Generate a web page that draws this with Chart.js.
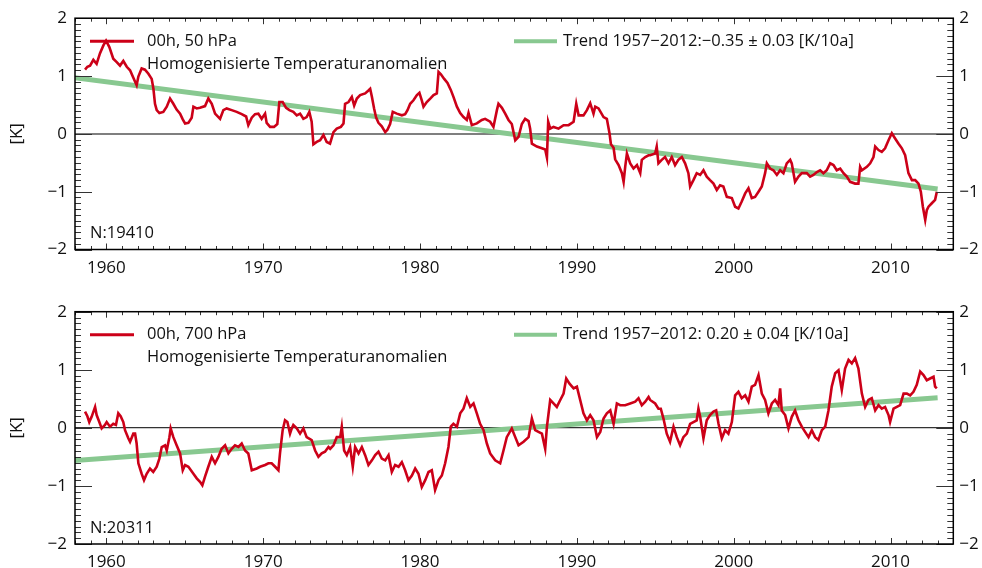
<!DOCTYPE html>
<html>
<head>
<meta charset="utf-8">
<script src="https://cdn.jsdelivr.net/npm/chart.js@4"></script>
<style>
html, body { margin: 0; padding: 0; background: #fff; }
#wrap { position: relative; width: 982px; height: 568px; overflow: hidden; }
.panel { position: absolute; left: 0; width: 982px; }
</style>
</head>
<body>
<div id="wrap">
  <div class="panel" style="top:0;height:290px"><canvas id="c50" width="982" height="290"></canvas></div>
  <div class="panel" style="top:290px;height:278px"><canvas id="c700" width="982" height="278"></canvas></div>
</div>
<script>
// --- DATOS ---
const years50 = [
  1958.64, 1958.79, 1958.96, 1959.17, 1959.38, 1959.59, 1959.81, 1959.98, 1960.19, 1960.44,
  1960.66, 1960.87, 1961.08, 1961.30, 1961.51, 1961.72, 1961.93, 1962.04, 1962.25, 1962.46,
  1962.68, 1962.89, 1963.00, 1963.10, 1963.21, 1963.38, 1963.63, 1963.85, 1964.06, 1964.27,
  1964.48, 1964.70, 1964.87, 1965.02, 1965.23, 1965.44, 1965.55, 1965.76, 1965.97, 1966.29,
  1966.50, 1966.72, 1966.93, 1967.25, 1967.46, 1967.67, 1967.99, 1968.31, 1968.63, 1968.91,
  1969.05, 1969.27, 1969.48, 1969.69, 1969.90, 1970.12, 1970.22, 1970.44, 1970.69, 1970.90,
  1971.03, 1971.24, 1971.46, 1971.67, 1971.92, 1972.14, 1972.35, 1972.56, 1972.77, 1972.94,
  1973.09, 1973.20, 1973.41, 1973.63, 1973.84, 1974.05, 1974.26, 1974.48, 1974.69, 1974.95,
  1975.12, 1975.22, 1975.44, 1975.65, 1975.80, 1975.97, 1976.18, 1976.50, 1976.71, 1976.82,
  1976.93, 1977.07, 1977.20, 1977.35, 1977.56, 1977.78, 1977.92, 1978.09, 1978.26, 1978.52,
  1978.84, 1979.05, 1979.20, 1979.37, 1979.58, 1979.80, 1979.96, 1980.11, 1980.22, 1980.43,
  1980.65, 1980.86, 1981.07, 1981.18, 1981.33, 1981.54, 1981.75, 1981.96, 1982.13, 1982.35,
  1982.56, 1982.77, 1982.98, 1983.09, 1983.30, 1983.62, 1983.94, 1984.15, 1984.47, 1984.68,
  1984.90, 1985.00, 1985.22, 1985.43, 1985.64, 1985.85, 1986.07, 1986.28, 1986.49, 1986.70,
  1986.92, 1987.02, 1987.13, 1987.45, 1987.77, 1987.98, 1988.09, 1988.17, 1988.30, 1988.51,
  1988.83, 1989.15, 1989.47, 1989.79, 1989.96, 1990.11, 1990.42, 1990.64, 1990.85, 1991.06,
  1991.17, 1991.38, 1991.70, 1991.91, 1992.08, 1992.17, 1992.34, 1992.44, 1992.66, 1992.87,
  1992.98, 1993.08, 1993.19, 1993.40, 1993.61, 1993.83, 1994.04, 1994.14, 1994.36, 1994.57,
  1994.67, 1994.99, 1995.09, 1995.20, 1995.41, 1995.62, 1995.84, 1996.05, 1996.26, 1996.47,
  1996.69, 1996.90, 1997.11, 1997.22, 1997.43, 1997.64, 1997.86, 1998.07, 1998.28, 1998.49,
  1998.71, 1998.92, 1999.13, 1999.34, 1999.56, 1999.88, 2000.09, 2000.30, 2000.51, 2000.73,
  2000.94, 2001.15, 2001.36, 2001.58, 2001.79, 2002.00, 2002.11, 2002.32, 2002.53, 2002.75,
  2002.96, 2003.17, 2003.38, 2003.60, 2003.70, 2003.91, 2004.13, 2004.34, 2004.66, 2004.87,
  2005.08, 2005.30, 2005.51, 2005.72, 2005.93, 2006.15, 2006.36, 2006.57, 2006.79, 2007.00,
  2007.21, 2007.42, 2007.74, 2007.95, 2008.06, 2008.17, 2008.49, 2008.70, 2008.91, 2009.02,
  2009.23, 2009.44, 2009.65, 2009.87, 2010.08, 2010.29, 2010.51, 2010.72, 2010.93, 2011.14,
  2011.36, 2011.57, 2011.78, 2011.93, 2012.06, 2012.21, 2012.31, 2012.42, 2012.63, 2012.84,
  2012.95
];
const temp50 = [
  1.11, 1.16, 1.18, 1.28, 1.21, 1.39, 1.53, 1.61, 1.50, 1.30,
  1.24, 1.18, 1.26, 1.16, 1.10, 0.97, 0.84, 0.99, 1.13, 1.11,
  1.04, 0.95, 0.78, 0.52, 0.41, 0.36, 0.38, 0.47, 0.61, 0.52,
  0.42, 0.35, 0.25, 0.18, 0.19, 0.28, 0.47, 0.44, 0.45, 0.48,
  0.61, 0.52, 0.35, 0.26, 0.41, 0.44, 0.41, 0.38, 0.34, 0.30,
  0.15, 0.28, 0.34, 0.35, 0.26, 0.35, 0.19, 0.12, 0.12, 0.17,
  0.55, 0.55, 0.45, 0.41, 0.38, 0.32, 0.35, 0.26, 0.29, 0.38,
  0.21, -0.18, -0.14, -0.11, -0.02, -0.14, -0.17, 0.03, 0.09, 0.12,
  0.18, 0.52, 0.55, 0.64, 0.49, 0.61, 0.67, 0.70, 0.75, 0.78,
  0.64, 0.44, 0.28, 0.19, 0.13, 0.03, 0.07, 0.17, 0.38, 0.35,
  0.32, 0.34, 0.41, 0.52, 0.58, 0.67, 0.71, 0.58, 0.47, 0.55,
  0.61, 0.67, 0.70, 1.07, 1.03, 0.95, 0.88, 0.76, 0.64, 0.47,
  0.36, 0.29, 0.24, 0.36, 0.15, 0.18, 0.24, 0.26, 0.21, 0.12,
  0.41, 0.52, 0.45, 0.35, 0.24, 0.17, -0.11, -0.05, 0.17, 0.26,
  0.22, 0.09, -0.17, -0.22, -0.25, -0.27, -0.41, 0.21, 0.09, 0.12,
  0.09, 0.15, 0.15, 0.21, 0.52, 0.32, 0.32, 0.41, 0.53, 0.35,
  0.47, 0.44, 0.29, 0.26, 0.01, -0.18, -0.24, -0.44, -0.54, -0.68,
  -0.83, -0.57, -0.34, -0.51, -0.60, -0.54, -0.68, -0.45, -0.40, -0.37,
  -0.37, -0.34, -0.22, -0.51, -0.45, -0.40, -0.51, -0.40, -0.54, -0.45,
  -0.40, -0.51, -0.68, -0.91, -0.80, -0.68, -0.71, -0.63, -0.74, -0.80,
  -0.86, -0.97, -0.89, -0.91, -1.09, -1.11, -1.26, -1.29, -1.17, -1.03,
  -0.94, -1.11, -1.09, -1.00, -0.91, -0.68, -0.51, -0.60, -0.63, -0.71,
  -0.63, -0.68, -0.51, -0.45, -0.51, -0.83, -0.74, -0.68, -0.68, -0.74,
  -0.71, -0.66, -0.63, -0.68, -0.63, -0.51, -0.54, -0.63, -0.60, -0.68,
  -0.74, -0.83, -0.86, -0.86, -0.57, -0.63, -0.57, -0.51, -0.40, -0.22,
  -0.28, -0.31, -0.25, -0.11, 0.01, -0.08, -0.17, -0.25, -0.37, -0.68,
  -0.80, -0.80, -0.86, -1.00, -1.26, -1.49, -1.32, -1.26, -1.20, -1.14,
  -1.00
];

const years700 = [
  1958.64, 1958.79, 1958.91, 1959.06, 1959.28, 1959.38, 1959.55, 1959.70, 1959.91, 1960.02,
  1960.23, 1960.44, 1960.61, 1960.76, 1960.91, 1961.08, 1961.19, 1961.40, 1961.51, 1961.72,
  1961.83, 1961.93, 1962.04, 1962.25, 1962.40, 1962.57, 1962.78, 1962.99, 1963.21, 1963.38,
  1963.53, 1963.74, 1963.85, 1964.02, 1964.10, 1964.27, 1964.48, 1964.70, 1964.87, 1965.02,
  1965.23, 1965.55, 1965.76, 1965.97, 1966.12, 1966.29, 1966.50, 1966.72, 1966.93, 1967.14,
  1967.35, 1967.57, 1967.78, 1967.99, 1968.20, 1968.42, 1968.63, 1968.84, 1969.05, 1969.27,
  1969.59, 1969.80, 1970.12, 1970.33, 1970.54, 1970.76, 1970.97, 1971.07, 1971.24, 1971.39,
  1971.54, 1971.71, 1971.82, 1971.92, 1972.14, 1972.35, 1972.56, 1972.77, 1973.09, 1973.31,
  1973.52, 1973.73, 1973.94, 1974.16, 1974.27, 1974.48, 1974.69, 1974.91, 1975.01, 1975.16,
  1975.33, 1975.54, 1975.71, 1975.86, 1976.08, 1976.29, 1976.50, 1976.71, 1976.93, 1977.14,
  1977.35, 1977.56, 1977.78, 1977.99, 1978.20, 1978.41, 1978.63, 1978.84, 1979.05, 1979.26,
  1979.48, 1979.69, 1979.90, 1980.11, 1980.33, 1980.54, 1980.75, 1980.96, 1981.18, 1981.39,
  1981.60, 1981.81, 1981.96, 1982.13, 1982.35, 1982.56, 1982.77, 1982.98, 1983.20, 1983.41,
  1983.62, 1983.83, 1984.05, 1984.26, 1984.47, 1984.79, 1985.11, 1985.32, 1985.53, 1985.85,
  1986.07, 1986.28, 1986.60, 1986.92, 1987.13, 1987.34, 1987.55, 1987.77, 1987.98, 1988.09,
  1988.30, 1988.51, 1988.72, 1988.94, 1989.15, 1989.32, 1989.53, 1989.79, 1990.00, 1990.21,
  1990.42, 1990.64, 1990.85, 1991.06, 1991.28, 1991.49, 1991.70, 1991.91, 1992.13, 1992.34,
  1992.55, 1992.76, 1993.08, 1993.40, 1993.72, 1993.93, 1994.14, 1994.36, 1994.57, 1994.67,
  1994.99, 1995.20, 1995.35, 1995.52, 1995.73, 1995.94, 1996.16, 1996.37, 1996.58, 1996.79,
  1997.01, 1997.22, 1997.43, 1997.64, 1997.75, 1997.86, 1998.07, 1998.28, 1998.49, 1998.71,
  1998.88, 1999.03, 1999.24, 1999.45, 1999.66, 1999.88, 2000.09, 2000.30, 2000.51, 2000.73,
  2000.94, 2001.15, 2001.36, 2001.58, 2001.79, 2002.00, 2002.21, 2002.43, 2002.64, 2002.85,
  2002.96, 2003.06, 2003.28, 2003.49, 2003.70, 2003.91, 2004.13, 2004.34, 2004.55, 2004.77,
  2004.98, 2005.19, 2005.40, 2005.62, 2005.83, 2006.04, 2006.25, 2006.47, 2006.68, 2006.89,
  2007.10, 2007.32, 2007.53, 2007.74, 2007.95, 2008.17, 2008.38, 2008.59, 2008.80, 2009.02,
  2009.23, 2009.44, 2009.65, 2009.87, 2009.97, 2010.19, 2010.40, 2010.61, 2010.83, 2011.04,
  2011.25, 2011.46, 2011.67, 2011.89, 2012.10, 2012.31, 2012.52, 2012.74, 2012.84, 2012.95
];
const temp700 = [
  0.28, 0.20, 0.10, 0.19, 0.36, 0.22, 0.10, -0.01, 0.05, 0.10,
  0.02, 0.07, 0.05, 0.25, 0.20, 0.10, -0.04, -0.18, -0.24, -0.10,
  -0.10, -0.27, -0.61, -0.79, -0.90, -0.79, -0.70, -0.76, -0.67, -0.53,
  -0.33, -0.30, -0.39, -0.16, -0.01, -0.16, -0.30, -0.44, -0.73, -0.64,
  -0.67, -0.79, -0.87, -0.93, -0.99, -0.84, -0.67, -0.50, -0.61, -0.50,
  -0.36, -0.30, -0.44, -0.36, -0.30, -0.33, -0.27, -0.39, -0.44, -0.73,
  -0.70, -0.67, -0.64, -0.61, -0.61, -0.67, -0.73, -0.44, -0.04, 0.13,
  0.10, -0.10, -0.01, 0.05, -0.01, -0.10, -0.01, -0.16, -0.21, -0.39,
  -0.50, -0.44, -0.41, -0.33, -0.36, -0.30, -0.16, -0.16, 0.02, -0.39,
  -0.47, -0.33, -0.67, -0.33, -0.44, -0.33, -0.47, -0.64, -0.56, -0.47,
  -0.41, -0.53, -0.56, -0.47, -0.76, -0.64, -0.67, -0.59, -0.73, -0.90,
  -0.82, -0.70, -0.79, -1.02, -0.90, -0.76, -0.73, -1.07, -0.90, -0.82,
  -0.61, -0.33, 0.02, 0.07, 0.02, 0.25, 0.33, 0.51, 0.36, 0.42,
  0.25, 0.07, -0.04, -0.27, -0.44, -0.56, -0.61, -0.39, -0.16, -0.01,
  -0.16, -0.30, -0.24, -0.16, 0.16, -0.04, -0.07, -0.10, -0.36, 0.02,
  0.48, 0.42, 0.36, 0.48, 0.59, 0.85, 0.76, 0.68, 0.71, 0.48,
  0.25, 0.13, 0.22, 0.13, -0.16, -0.07, 0.16, 0.25, 0.30, 0.07,
  0.42, 0.39, 0.39, 0.42, 0.45, 0.51, 0.39, 0.45, 0.53, 0.48,
  0.42, 0.33, 0.33, 0.16, -0.10, -0.24, 0.02, -0.16, -0.30, -0.16,
  -0.10, 0.07, 0.10, 0.13, 0.33, 0.19, -0.18, 0.13, 0.22, 0.28,
  0.30, 0.07, -0.18, -0.04, -0.10, 0.10, 0.56, 0.62, 0.51, 0.56,
  0.45, 0.71, 0.74, 0.91, 0.59, 0.48, 0.25, 0.42, 0.48, 0.39,
  0.68, 0.30, 0.22, -0.01, 0.19, 0.30, 0.13, 0.02, -0.07, -0.16,
  -0.04, -0.16, -0.21, -0.04, 0.02, 0.30, 0.71, 0.94, 0.99, 0.65,
  1.02, 1.17, 1.11, 1.20, 1.02, 0.59, 0.36, 0.48, 0.51, 0.30,
  0.39, 0.33, 0.36, 0.22, 0.10, 0.33, 0.36, 0.39, 0.59, 0.59,
  0.56, 0.62, 0.74, 0.97, 0.91, 0.82, 0.85, 0.88, 0.71, 0.68
];

// Trendlinien 1957-2012 (Endpunkte)
const trendYears = [1957, 2013];
const trend50 = [1.005, -0.955];
const trend700 = [-0.58, 0.52];

const xTickYears = [1960, 1970, 1980, 1990, 2000, 2010];
const yTickValues = [-2, -1, 0, 1, 2];

const FONT = "'Open Sans', 'Noto Sans', sans-serif";
const RED = '#cc0018';
const GREEN = '#88c890';

function toPoints(xs, ys) {
    return xs.map((x, i) => ({ x: x, y: ys[i] }));
}

function fmtY(v) {
    return v < 0 ? '\u2212' + Math.abs(v) : String(v);
}

// --- Rahmen, Ticks nach innen, Legende ---
const framePlugin = {
    id: 'frame',
    afterDraw(chart, args, opts) {
        const { ctx, chartArea: a, scales } = chart;
        const x = scales.x, y = scales.y;
        ctx.save();

        // kleine/grosse Ticks nach innen
        ctx.strokeStyle = '#333';
        ctx.lineWidth = 1;
        ctx.beginPath();
        for (let yr = Math.ceil(x.min); yr <= x.max; yr++) {
            const px = Math.round(x.getPixelForValue(yr)) + 0.5;
            const len = yr % 10 === 0 ? 6 : 3.5;
            ctx.moveTo(px, a.bottom); ctx.lineTo(px, a.bottom - len);
            ctx.moveTo(px, a.top); ctx.lineTo(px, a.top + len);
        }
        for (let k = Math.round(y.min * 10); k <= Math.round(y.max * 10); k++) {
            const py = Math.round(y.getPixelForValue(k / 10)) + 0.5;
            const len = k % 10 === 0 ? 17 : 6;
            ctx.moveTo(a.left, py); ctx.lineTo(a.left + len, py);
            ctx.moveTo(a.right, py); ctx.lineTo(a.right - len, py);
        }
        ctx.stroke();

        ctx.strokeStyle = '#000';
        ctx.lineWidth = 1.5;
        ctx.strokeRect(a.left, a.top, a.right - a.left, a.bottom - a.top);

        // Legende
        const ly = a.top + 23;
        ctx.lineCap = 'butt';
        ctx.strokeStyle = RED;
        ctx.lineWidth = 3;
        ctx.beginPath();
        ctx.moveTo(a.left + 15, ly); ctx.lineTo(a.left + 59, ly);
        ctx.stroke();
        ctx.strokeStyle = GREEN;
        ctx.lineWidth = 4;
        ctx.beginPath();
        ctx.moveTo(a.left + 439, ly); ctx.lineTo(a.left + 482, ly);
        ctx.stroke();

        ctx.fillStyle = '#111';
        ctx.font = '16.5px ' + FONT;
        ctx.textBaseline = 'middle';
        ctx.textAlign = 'left';
        ctx.fillText(opts.label, a.left + 72, ly);
        ctx.fillText('Homogenisierte Temperaturanomalien', a.left + 72, ly + 23);
        ctx.fillText(opts.trend, a.left + 488, ly);
        ctx.fillText(opts.count, a.left + 15, a.bottom - 16);

        ctx.restore();
    }
};

function makeChart(id, years, temps, trend, zeroColor, zeroWidth, padTop, xHeight, xPad, texts) {
    return new Chart(document.getElementById(id), {
        type: 'line',
        data: {
            datasets: [
                {
                    data: toPoints(years, temps),
                    borderColor: RED,
                    borderWidth: 2.6,
                    pointRadius: 0,
                    tension: 0
                },
                {
                    data: toPoints(trendYears, trend),
                    borderColor: GREEN,
                    borderWidth: 5,
                    pointRadius: 0,
                    tension: 0
                }
            ]
        },
        options: {
            responsive: false,
            animation: false,
            devicePixelRatio: 1,
            layout: { padding: { top: padTop, left: 0, right: 0, bottom: 0 } },
            plugins: {
                legend: { display: false },
                tooltip: { enabled: false },
                frame: texts
            },
            scales: {
                x: {
                    type: 'linear',
                    min: 1958,
                    max: 2014,
                    afterBuildTicks: s => { s.ticks = xTickYears.map(v => ({ value: v })); },
                    afterFit: s => { s.height = xHeight; },
                    grid: { drawOnChartArea: false, drawTicks: false },
                    border: { display: false },
                    ticks: {
                        autoSkip: false,
                        maxRotation: 0,
                        padding: xPad,
                        color: '#111',
                        font: { family: FONT, size: 17 },
                        callback: v => String(v)
                    }
                },
                y: {
                    position: 'left',
                    min: -2,
                    max: 2,
                    afterBuildTicks: s => { s.ticks = yTickValues.map(v => ({ value: v })); },
                    afterFit: s => { s.width = 75; },
                    grid: {
                        drawTicks: false,
                        color: c => (c.tick && c.tick.value === 0) ? zeroColor : 'rgba(0,0,0,0)',
                        lineWidth: zeroWidth
                    },
                    border: { display: false },
                    title: {
                        display: true,
                        text: '[K]',
                        color: '#111',
                        font: { family: FONT, size: 17 },
                        padding: { top: 7, bottom: 0 }
                    },
                    ticks: {
                        padding: 8,
                        color: '#111',
                        font: { family: FONT, size: 17 },
                        callback: v => fmtY(v)
                    }
                },
                y2: {
                    position: 'right',
                    min: -2,
                    max: 2,
                    afterBuildTicks: s => { s.ticks = yTickValues.map(v => ({ value: v })); },
                    afterFit: s => { s.width = 28.7; },
                    grid: { drawOnChartArea: false, drawTicks: false },
                    border: { display: false },
                    ticks: {
                        padding: 6,
                        color: '#111',
                        font: { family: FONT, size: 17 },
                        callback: v => fmtY(v)
                    }
                }
            }
        },
        plugins: [framePlugin]
    });
}

makeChart('c50', years50, temp50, trend50, '#7f7f7f', 2, 17.3, 40.5, 8, {
    label: '00h, 50 hPa',
    trend: 'Trend 1957\u22122012:\u22120.35 \u00b1 0.03 [K/10a]',
    count: 'N:19410'
});
makeChart('c700', years700, temp700, trend700, '#333', 1.2, 21.7, 24, 8, {
    label: '00h, 700 hPa',
    trend: 'Trend 1957\u22122012: 0.20 \u00b1 0.04 [K/10a]',
    count: 'N:20311'
});
</script>
</body>
</html>
